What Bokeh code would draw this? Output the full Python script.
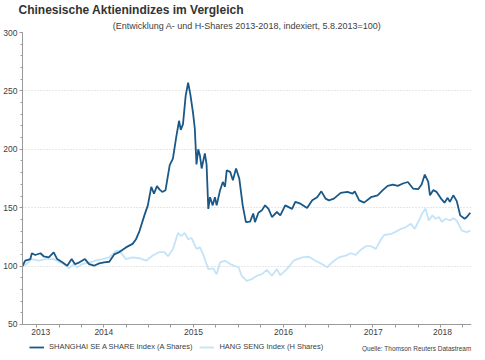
import pandas as pd
from bokeh.plotting import figure
from bokeh.models import (Title, Legend, LegendItem, FixedTicker, Range1d,
                          SingleIntervalTicker, Label)
from bokeh.embed import file_html
from bokeh.resources import INLINE

# --- data ---
a_dates = ["2013-08-05","2013-08-16","2013-09-06","2013-09-12","2013-09-26","2013-10-17","2013-10-30",
           "2013-11-20","2013-12-10","2013-12-24","2014-01-14","2014-02-03","2014-02-21","2014-03-06",
           "2014-03-23","2014-04-16","2014-05-03","2014-05-23","2014-06-13","2014-07-03","2014-07-24",
           "2014-08-13","2014-09-03","2014-09-30","2014-10-27","2014-11-10","2014-11-24","2014-12-14",
           "2014-12-28","2015-01-11","2015-01-22","2015-02-03","2015-02-14","2015-02-25","2015-03-10",
           "2015-03-27","2015-04-09","2015-04-23","2015-05-04","2015-05-11","2015-05-20","2015-05-31",
           "2015-06-10","2015-06-19","2015-06-30","2015-07-07","2015-07-14","2015-07-21","2015-07-28",
           "2015-08-04","2015-08-17","2015-08-24","2015-08-31","2015-09-07","2015-09-18","2015-09-27",
           "2015-10-04","2015-10-18","2015-10-29","2015-11-07","2015-11-14","2015-11-28","2015-12-09",
           "2015-12-22","2016-01-04","2016-01-18","2016-01-31","2016-02-17","2016-03-01","2016-03-08",
           "2016-03-22","2016-04-05","2016-04-18","2016-05-02","2016-05-16","2016-06-05","2016-06-19",
           "2016-07-09","2016-08-06","2016-08-19","2016-09-09","2016-10-06","2016-10-27","2016-11-16",
           "2016-12-03","2016-12-20","2017-01-03","2017-01-23","2017-02-20","2017-03-19","2017-04-09",
           "2017-04-18","2017-05-06","2017-05-26","2017-06-23","2017-07-20","2017-08-10","2017-08-30",
           "2017-09-20","2017-10-10","2017-10-31","2017-11-20","2017-12-11","2018-01-01","2018-01-15",
           "2018-01-28","2018-02-11","2018-02-18","2018-03-03","2018-03-17","2018-04-04","2018-04-18",
           "2018-05-01","2018-05-10","2018-05-24","2018-06-07","2018-06-21","2018-07-09","2018-07-18",
           "2018-08-01"]
a_values = [100, 104.6, 106, 111, 109.5, 111, 108.4, 107.5, 111.8, 106, 103.2, 100.3, 106, 101.7,
            103, 106, 101.7, 100.3, 102.3, 103.2, 103.7, 110, 112, 116, 119, 123, 130, 143.4,
            152, 167.8, 162, 168.5, 165.5, 163.5, 165, 186.5, 192, 211, 224.4, 216.6, 221.6, 246,
            257, 247, 231, 218, 187, 200, 194.6, 183.6, 196.5, 187, 149, 159, 152, 159,
            152, 165, 172, 167.9, 182, 180.7, 173.5, 183.6, 175, 152, 137.6, 138, 145, 137.6,
            145.7, 147.7, 152, 149, 142, 146.3, 143.4, 152, 149, 155, 153.4, 149.7, 156.3, 159,
            164, 157.8, 156.3, 157.8, 162.7, 163.5, 162, 164, 156.3, 154.3, 159, 160.6, 165, 168.7,
            169.8, 168.7, 170.7, 172, 166.4, 165.8, 169.8, 178.4, 172, 160.6, 165, 163.5, 157.8, 154.3,
            158.4, 155, 160.6, 155.6, 143.4, 140.5, 142, 145.7]

h_dates = ["2013-08-05","2013-08-21","2013-09-11","2013-10-10","2013-11-06","2013-12-10","2014-01-07",
           "2014-02-03","2014-02-10","2014-03-02","2014-03-16","2014-04-05","2014-05-03","2014-05-30",
           "2014-06-26","2014-07-24","2014-08-20","2014-09-03","2014-09-30","2014-10-27","2014-11-24",
           "2014-12-21","2015-01-17","2015-02-14","2015-03-06","2015-03-20","2015-04-09","2015-04-30",
           "2015-05-13","2015-05-27","2015-06-10","2015-06-24","2015-07-14","2015-07-28","2015-08-10",
           "2015-08-31","2015-09-20","2015-10-04","2015-10-18","2015-11-07","2015-11-28","2015-12-18",
           "2016-01-01","2016-01-14","2016-02-03","2016-02-24","2016-03-16","2016-04-05","2016-04-25",
           "2016-05-16","2016-06-05","2016-06-19","2016-07-16","2016-08-12","2016-09-16","2016-10-13",
           "2016-11-09","2016-12-06","2016-12-27","2017-01-16","2017-02-13","2017-03-12","2017-04-02",
           "2017-04-22","2017-05-13","2017-06-02","2017-06-23","2017-07-13","2017-08-03","2017-08-16",
           "2017-09-13","2017-10-03","2017-10-24","2017-11-13","2017-12-02","2017-12-18","2018-01-04",
           "2018-01-17","2018-01-31","2018-02-13","2018-02-28","2018-03-13","2018-03-27","2018-04-07",
           "2018-04-23","2018-05-11","2018-05-24","2018-06-07","2018-06-17","2018-06-28","2018-07-18",
           "2018-08-01"]
h_values = [100, 101.7, 106, 104.6, 106, 106, 103, 100, 98, 101.7, 99, 101.7, 103, 104.6,
            106, 107.5, 113, 113, 106, 107.5, 106.7, 104.6, 109, 112, 112, 108.4, 114.7, 128.4,
            125.6, 128.4, 123, 123.9, 114.7, 116, 110, 97.4, 98, 93, 103.2, 104.6, 101.7, 100,
            99, 91.7, 87.4, 88.8, 91.7, 93.1, 96.8, 91.7, 97.4, 92.2, 97.4, 104.6, 107.5, 108,
            104.6, 101.7, 99, 103.2, 107.5, 109, 111, 109.5, 114, 117, 117, 114.7, 123, 126.6,
            127.5, 129.5, 131.9, 133.4, 136.2, 131.9, 139, 145, 149.2, 139, 143.4, 140.5, 142, 138,
            140.5, 139, 141, 139, 134.7, 130.4, 129, 130.4]

year_labels = ["2013", "2014", "2015", "2016", "2017", "2018"]
year_label_pos = ["2013-10-18", "2014-07-02", "2015-07-02", "2016-07-02", "2017-07-02", "2018-04-10"]
quarter_ticks = pd.date_range("2013-10-01", "2018-07-01", freq="QS")

series_a_name = "SHANGHAI SE A SHARE Index (A Shares)"
series_h_name = "HANG SENG Index (H Shares)"
source_text = "Quelle: Thomson Reuters Datastream"

FONT = "Liberation Sans"
DARK = "#1a5887"
LIGHT = "#c3e4f8"


def ms(d):
    return pd.Timestamp(d).value / 1e6


p = figure(width=477, height=352, output_backend="svg", toolbar_location=None,
           x_axis_type="datetime",
           x_range=Range1d(ms("2013-08-05"), ms("2018-08-06")),
           y_range=Range1d(26, 300),
           min_border_left=0, min_border_right=6, min_border_top=0, min_border_bottom=0)
p.outline_line_color = None
p.background_fill_color = "white"

rh = p.line(pd.to_datetime(h_dates), h_values, line_color=LIGHT, line_width=1.8)
ra = p.line(pd.to_datetime(a_dates), a_values, line_color=DARK, line_width=1.8)

# y axis
yax = p.yaxis[0]
yax.ticker = SingleIntervalTicker(interval=50, num_minor_ticks=5)
yax.bounds = (50, 300)
yax.axis_line_color = "#9a9a9a"
yax.major_tick_line_color = "#9a9a9a"
yax.minor_tick_line_color = "#9a9a9a"
yax.major_tick_out = 3
yax.major_tick_in = 0
yax.minor_tick_out = 2
yax.minor_tick_in = 0
yax.major_label_standoff = 2
yax.major_label_text_font = FONT
yax.major_label_text_font_size = "8.5px"
yax.major_label_text_color = "#404040"

# x axis, pinned at the 50 level
xax = p.xaxis[0]
xax.fixed_location = 50
xt = [ms(d) for d in year_label_pos]
xax.ticker = FixedTicker(ticks=xt, minor_ticks=[ms(d) for d in quarter_ticks])
xax.major_label_overrides = {t: lab for t, lab in zip(xt, year_labels)}
xax.axis_line_color = "#9a9a9a"
xax.major_tick_line_color = None
xax.minor_tick_line_color = "#9a9a9a"
xax.minor_tick_out = 3
xax.minor_tick_in = 0
xax.major_tick_out = 3
xax.major_label_standoff = 2
xax.major_label_text_font = FONT
xax.major_label_text_font_size = "8.5px"
xax.major_label_text_color = "#404040"

p.xgrid.grid_line_color = None
p.ygrid.grid_line_color = "#cfcfcf"
p.ygrid.grid_line_dash = "1 2"
p.ygrid.grid_line_width = 1

# titles
p.add_layout(Title(text="(Entwicklung A- und H-Shares 2013-2018, indexiert, 5.8.2013=100)",
                   align="center", text_font=FONT, text_font_size="9px",
                   text_font_style="normal", text_color="#404040", offset=-8,
                   standoff=4), "above")
p.add_layout(Title(text="Chinesische Aktienindizes im Vergleich", align="left",
                   text_font=FONT, text_font_size="12px", text_font_style="bold",
                   text_color="#333333", offset=-4, standoff=0), "above")

legend = Legend(items=[LegendItem(label=series_a_name, renderers=[ra]),
                       LegendItem(label=series_h_name, renderers=[rh])],
                orientation="horizontal", location=(7, 1),
                label_text_font=FONT, label_text_font_size="7.5px", label_text_color="#404040",
                glyph_width=15, glyph_height=8, label_standoff=5, spacing=7,
                padding=0, margin=0, border_line_color=None, background_fill_alpha=0,
                label_height=9)
p.add_layout(legend, "center")

p.add_layout(Label(x=449, y=1, x_units="screen", y_units="screen", text=source_text,
                   text_align="right", text_baseline="bottom", text_font=FONT,
                   text_font_size="6.5px", text_color="#404040"))

open("out.html", "w").write(file_html(p, INLINE))
